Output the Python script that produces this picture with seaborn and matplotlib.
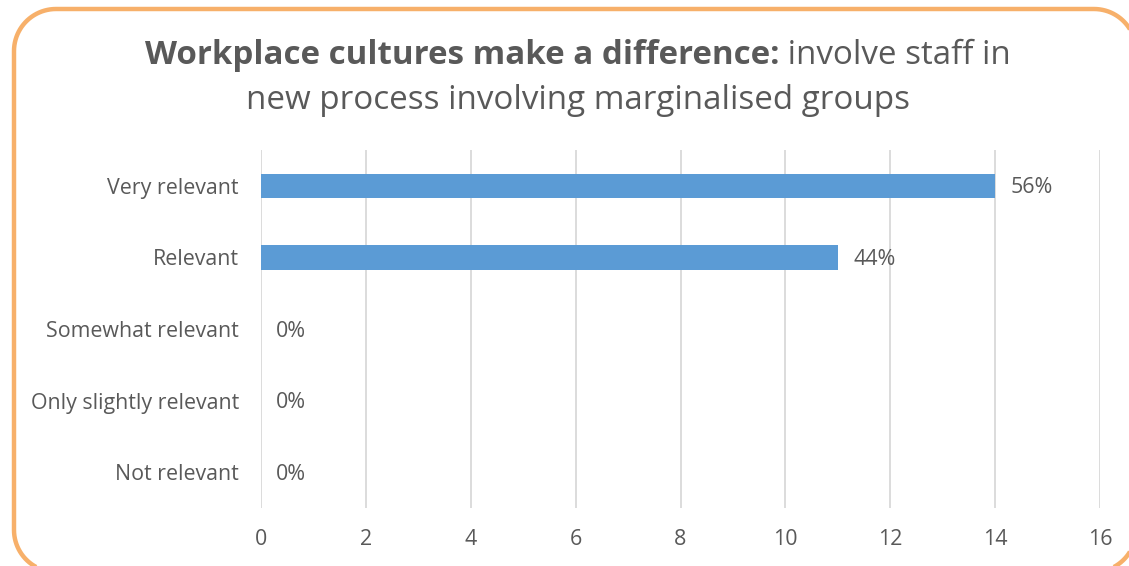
import matplotlib
matplotlib.use("Agg")
import matplotlib.pyplot as plt
from matplotlib.patches import Polygon
import numpy as np
import seaborn as sns
import pandas as pd

# Survey responses
categories = ["Very relevant", "Relevant", "Somewhat relevant",
              "Only slightly relevant", "Not relevant"]
counts = [14, 11, 0, 0, 0]
x_ticks = [0, 2, 4, 6, 8, 10, 12, 14, 16]

title_bold = "Workplace cultures make a difference:"
title_rest = " involve staff in"
title_line2 = "new process involving marginalised groups"

total = sum(counts)
pct_labels = [f"{round(c / total * 100)}%" for c in counts]

df = pd.DataFrame({"category": categories, "count": counts})

sns.set_theme(style="white")
plt.rcParams["font.family"] = ["Open Sans", "DejaVu Sans"]

TEXT = "#595959"
BAR = "#5B9BD5"
GRID = "#D9D9D9"
BORDER = "#F7B06A"
FS = 15.4
TFS = 23.9

W, H, DPI = 1129, 566, 100
fig = plt.figure(figsize=(W / DPI, H / DPI), dpi=DPI)
fig.patch.set_facecolor("white")


def rounded_rect(x0, y0, x1, y1, rad, n=24):
    """Outline of a rounded rectangle as a plain polyline."""
    pts = []
    corners = [(x1 - rad, y1 - rad, 0.0), (x0 + rad, y1 - rad, 90.0),
               (x0 + rad, y0 + rad, 180.0), (x1 - rad, y0 + rad, 270.0)]
    for cx_, cy_, start in corners:
        a = np.radians(np.linspace(start, start + 90.0, n))
        pts.extend(zip(cx_ + rad * np.cos(a), cy_ + rad * np.sin(a)))
    return np.array(pts)


# background layer in pixel units for the card frame
bg = fig.add_axes([0, 0, 1, 1], zorder=0)
bg.set_xlim(0, W)
bg.set_ylim(0, H)
bg.axis("off")
bg.add_patch(Polygon(rounded_rect(14, -6, 1136, 557, 42), closed=True,
                     facecolor="none", edgecolor=BORDER, linewidth=3.2))

ax = fig.add_axes([261 / W, 1 - 508 / H, (1100 - 261) / W, (508 - 150) / H],
                  zorder=1)
ax.patch.set_alpha(0)
sns.barplot(data=df, y="category", x="count", orient="h", color=BAR,
            width=0.34, saturation=1, ax=ax, zorder=3,
            edgecolor="none", linewidth=0)

ax.set_xlim(0, 16)
ax.set_ylim(4.5, -0.5)
ax.set_xticks(x_ticks)
ax.set_xticklabels([str(t) for t in x_ticks])
ax.xaxis.grid(True, color=GRID, linewidth=1.3, zorder=0)
ax.yaxis.grid(False)
for s in ax.spines.values():
    s.set_visible(False)
ax.set_xlabel("")
ax.set_ylabel("")
ax.tick_params(axis="x", length=0, pad=15, labelsize=FS, labelcolor=TEXT)
ax.tick_params(axis="y", length=0, pad=16, labelsize=FS, labelcolor=TEXT)

for i, (c, lab) in enumerate(zip(counts, pct_labels)):
    ax.annotate(lab, xy=(c, i), xytext=(11, -1.5), textcoords="offset points",
                va="center", ha="left", fontsize=FS, color=TEXT)

# two-part headline, centred as a whole
fig.canvas.draw()
r = fig.canvas.get_renderer()
cx = 578 / W
y1 = 1 - 55 / H
t1 = fig.text(0, y1, title_bold, fontsize=TFS, fontweight="bold",
              color=TEXT, va="center", ha="left")
t2 = fig.text(0, y1, title_rest, fontsize=TFS, color=TEXT,
              va="center", ha="left")
w1 = t1.get_window_extent(r).width / W
w2 = t2.get_window_extent(r).width / W
x0 = cx - (w1 + w2) / 2
t1.set_x(x0)
t2.set_x(x0 + w1)
fig.text(cx, 1 - 101 / H, title_line2, fontsize=TFS, color=TEXT,
         va="center", ha="center")

fig.savefig("out.png", dpi=DPI, facecolor="white")
